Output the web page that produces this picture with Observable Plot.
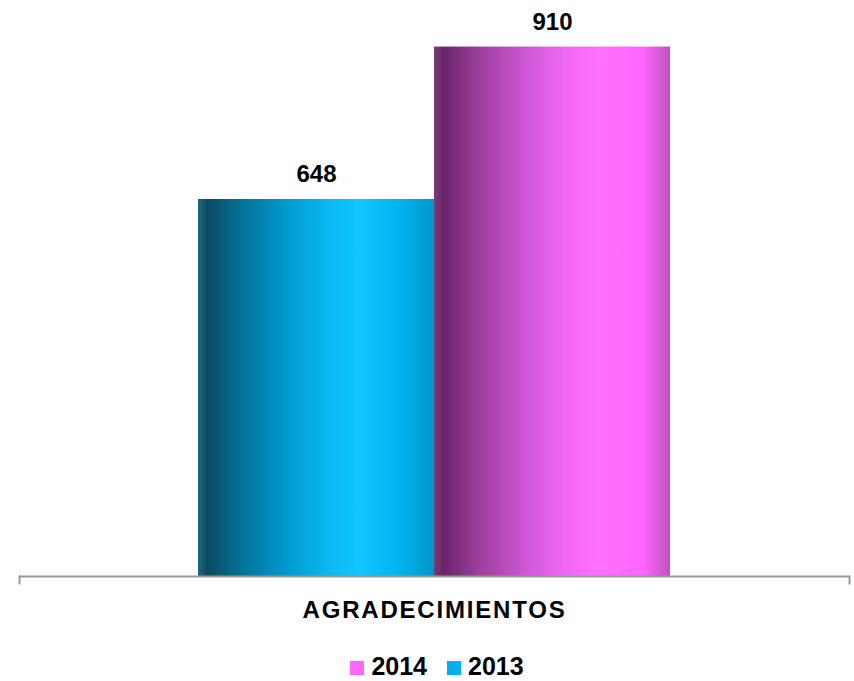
<!DOCTYPE html>
<html>
<head>
<meta charset="utf-8">
<script src="https://cdn.jsdelivr.net/npm/d3@7"></script>
<script src="https://cdn.jsdelivr.net/npm/@observablehq/plot@0.6"></script>
<style>
  body { margin: 0; background: #fff; font-family: Arial, "Liberation Sans", sans-serif; }
  #chart { width: 854px; }
  g[aria-label="fx-axis tick label"] text { letter-spacing: 1.8px; }
  .legend { display: flex; justify-content: center; align-items: center; height: 30px; padding-top: 6px; padding-left: 20px;
            font: bold 25px Arial, "Liberation Sans", sans-serif; color: #000; }
  .legend .item { display: flex; align-items: center; margin: 0 10px; }
  .legend .sw { width: 14px; height: 14px; margin-right: 7px; margin-top: 3px; }
</style>
</head>
<body>
<div id="chart"></div>
<script>
const categories = ["AGRADECIMIENTOS"];
const years = ["2013", "2014"];
const values2013 = [648];
const values2014 = [910];
const legendOrder = ["2014", "2013"];
const legendColors = {"2014": "#ff66ff", "2013": "#00b0f0"};

const data = [];
categories.forEach((c, i) => {
  data.push({category: c, year: "2013", value: values2013[i]});
  data.push({category: c, year: "2014", value: values2014[i]});
});

const gradStops = {
  "2013": [[0, "#1d6a80"], [0.04, "#0a4a62"], [0.15, "#066a8c"], [0.35, "#0095c8"], [0.55, "#0ab8ef"], [0.68, "#12c6ff"], [0.85, "#00b4f0"], [1, "#0096c8"]],
  "2014": [[0, "#7a3a7a"], [0.04, "#6a2468"], [0.2, "#a040a0"], [0.4, "#d058d8"], [0.55, "#f068f4"], [0.7, "#ff70ff"], [0.88, "#ff66ff"], [1, "#c050c0"]]
};

function defsMark() {
  const defs = d3.create("svg:defs");
  for (const y of years) {
    const g = defs.append("linearGradient").attr("id", "grad" + y)
      .attr("x1", 0).attr("x2", 1).attr("y1", 0).attr("y2", 0);
    for (const [o, c] of gradStops[y]) g.append("stop").attr("offset", o).attr("stop-color", c);
  }
  return defs.node();
}

const plot = Plot.plot({
  width: 854,
  height: 645,
  marginTop: 0,
  marginBottom: 69,
  marginLeft: 19,
  marginRight: 5,
  style: {fontFamily: "Arial, 'Liberation Sans', sans-serif", background: "#fff"},
  fx: {domain: categories, padding: 0, label: null},
  x: {domain: years, paddingInner: 0, paddingOuter: 0.755, axis: null},
  y: {domain: [0, 990], axis: null},
  marks: [
    defsMark,
    Plot.barY(data, {filter: d => d.year === "2013", fx: "category", x: "year", y: "value", fill: "url(#grad2013)"}),
    Plot.barY(data, {filter: d => d.year === "2014", fx: "category", x: "year", y: "value", fill: "url(#grad2014)"}),
    Plot.text(data, {fx: "category", x: "year", y: "value", text: d => String(d.value), dy: -17, lineAnchor: "bottom",
                     fontSize: 24, fontWeight: "bold", fill: "#000"}),
    Plot.ruleY([0], {stroke: "#999", strokeWidth: 2}),
    Plot.frame({anchor: "left", insetTop: 576, insetBottom: -7, stroke: "#999", strokeWidth: 2}),
    Plot.frame({anchor: "right", insetTop: 576, insetBottom: -7, stroke: "#999", strokeWidth: 2}),
    Plot.axisFx({anchor: "bottom", tickSize: 0, tickPadding: 24, fontSize: 24, fontWeight: "bold", label: null, fill: "#000"})
  ]
});
document.getElementById("chart").appendChild(plot);

const legend = d3.select("#chart").append("div").attr("class", "legend");
for (const y of legendOrder) {
  const it = legend.append("div").attr("class", "item");
  it.append("div").attr("class", "sw").style("background", legendColors[y]);
  it.append("span").text(y);
}
</script>
</body>
</html>
